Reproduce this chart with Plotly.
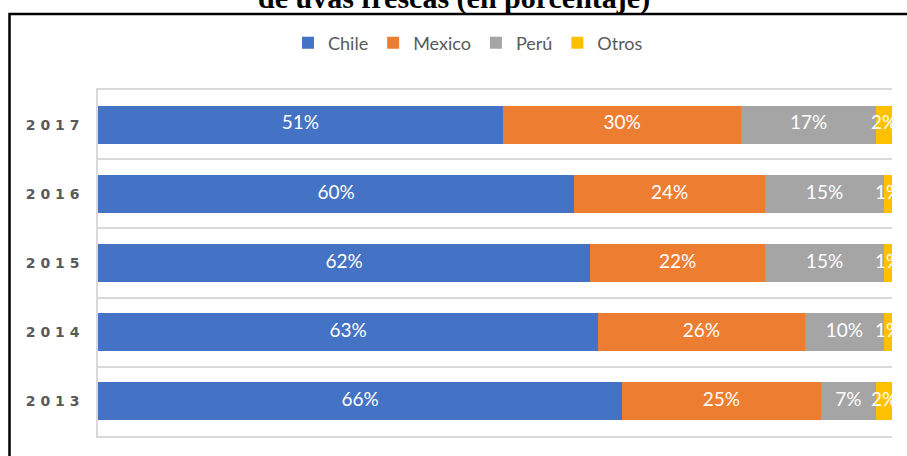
import plotly.graph_objects as go

years = ["2013", "2014", "2015", "2016", "2017"]
year_labels = ["2 0 1 3", "2 0 1 4", "2 0 1 5", "2 0 1 6", "2 0 1 7"]
series_names = ["Chile", "Mexico", "Perú", "Otros"]
chile = [66, 63, 62, 60, 51]
mexico = [25, 26, 22, 24, 30]
peru = [7, 10, 15, 15, 17]
otros = [2, 1, 1, 1, 2]
colors = ["#4472C4", "#ED7D31", "#A5A5A5", "#FFC000"]
title_text = "de uvas frescas (en porcentaje)"

series = [chile, mexico, peru, otros]

W, H = 907, 456
L, R, T, B = 98, 15, 90, 20
pw = W - L - R
ph = H - T - B

fig = go.Figure()
for name, vals, col in zip(series_names, series, colors):
    fig.add_trace(go.Bar(
        y=years, x=vals, name=name, orientation="h",
        marker=dict(color=col, line=dict(width=0)), width=0.55,
        hoverinfo="skip",
    ))

# labels centered in each segment, clipped to plot area
base = [0] * len(years)
for vals in series:
    mids = [b + v / 2 for b, v in zip(base, vals)]
    fig.add_trace(go.Scatter(
        x=mids, y=years, mode="text", text=[f"{v}%" for v in vals],
        textposition="middle center",
        textfont=dict(family="Lato", size=19, color="white"),
        showlegend=False, cliponaxis=True, hoverinfo="skip",
    ))
    base = [b + v for b, v in zip(base, vals)]

def px2x(p):
    return (p - L) / pw

def py2y(p):
    return (H - B - p) / ph

fig.add_shape(type="rect", xref="paper", yref="paper",
              x0=px2x(9.5), x1=px2x(930), y0=py2y(480), y1=py2y(14),
              line=dict(color="black", width=2.5), fillcolor="rgba(0,0,0,0)",
              layer="above")

fig.add_annotation(text=f"<b>{title_text}</b>", xref="paper", yref="paper",
                   x=px2x(454), y=py2y(-2), xanchor="center", yanchor="middle",
                   showarrow=False,
                   font=dict(family="Liberation Serif", size=30, color="black"))

fig.update_layout(
    width=W, height=H,
    margin=dict(l=L, r=R, t=T, b=B),
    barmode="stack",
    paper_bgcolor="white", plot_bgcolor="white",
    showlegend=True,
    legend=dict(orientation="h", xref="container", yref="container",
                x=468 / W, y=1 - 43 / H, xanchor="center", yanchor="middle",
                font=dict(family="Lato", size=18, color="#595959"),
                traceorder="normal", itemwidth=30),
    xaxis=dict(range=[0, 100], showgrid=False, zeroline=False,
               showticklabels=False, showline=True, mirror=True,
               linecolor="#D9D9D9", linewidth=1.5),
    yaxis=dict(type="category", categoryorder="array", categoryarray=years,
               tickvals=years, ticktext=year_labels, range=[-0.5, 4.5],
               tickson="boundaries", showgrid=True, gridcolor="#D9D9D9",
               gridwidth=1.5, ticks="", showline=True, linecolor="#D9D9D9",
               linewidth=1.5, ticklabelstandoff=14,
               tickfont=dict(family="DejaVu Sans", size=14, color="#595959",
                             weight="bold")),
)

fig.write_html("out.html")
